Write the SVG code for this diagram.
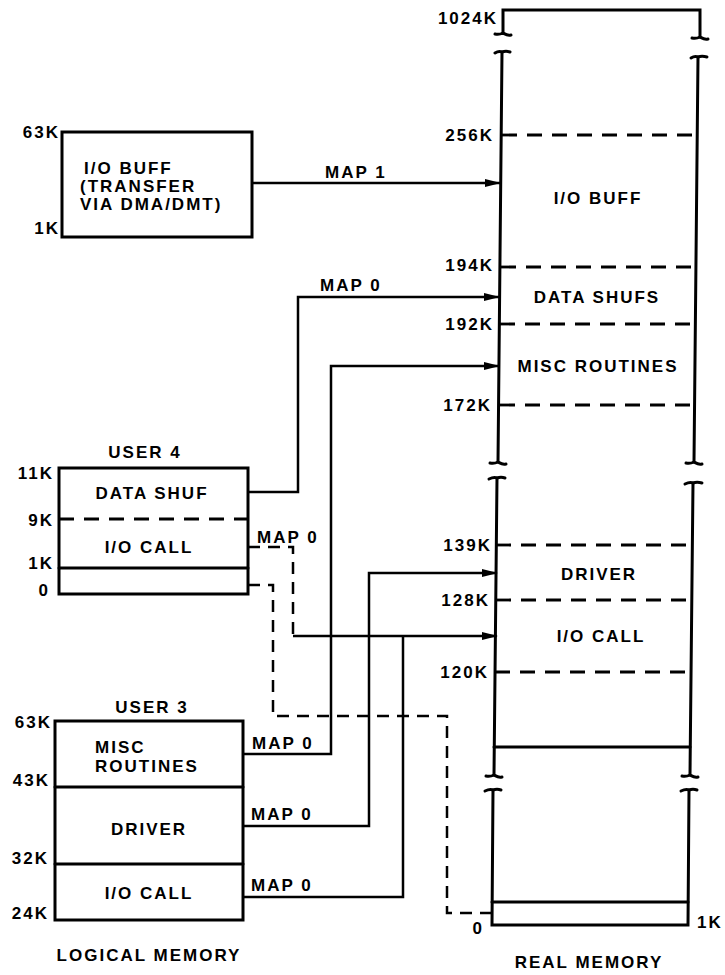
<svg xmlns="http://www.w3.org/2000/svg" width="725" height="975" viewBox="0 0 725 975">
<style>
text{font-family:"Liberation Sans",Arial,sans-serif;font-weight:bold;font-size:17px;letter-spacing:2px;fill:#000}
.m{text-anchor:middle}
.e{text-anchor:end}
.box{fill:none;stroke:#000;stroke-width:3}
.ln{fill:none;stroke:#000;stroke-width:3;stroke-linecap:round}
.ds{fill:none;stroke:#000;stroke-width:2.8;stroke-dasharray:15 10}
.cn{fill:none;stroke:#000;stroke-width:2.5}
.cd{fill:none;stroke:#000;stroke-width:2.5;stroke-dasharray:12 8}
</style>
<defs>
<marker id="ah" markerUnits="userSpaceOnUse" markerWidth="16" markerHeight="10" refX="15" refY="5" orient="auto">
<path d="M0,1 L16,5 L0,9 Z" fill="#000"/>
</marker>
</defs>

<g id="real-memory">
<path class="ln" d="M503,33 L503,10 L700,10 L700,37"/>
<path class="ln" d="M495,34 C499,35 501,34 503,33 C505,34 507,36 511,35"/>
<path class="ln" d="M692,38 C696,39 698,38 700,37 C702,38 704,40 708,39"/>
<path class="ln" d="M495,53 C498,51 500,51 502,52 C505,51 507,51 510,52"/>
<path class="ln" d="M691,58 C694,56 696,56 698,57 C701,56 703,56 707,57"/>
<path class="ln" d="M502,52 L498,462"/>
<path class="ln" d="M698,57 L694,462"/>
<path class="ln" d="M490,463 C494,464 496,463 498,462 C500,463 502,465 506,464"/>
<path class="ln" d="M686,463 C690,464 692,463 694,462 C696,463 698,465 702,464"/>
<path class="ln" d="M489,479 C493,477 495,477 497,478 C500,477 502,477 505,478"/>
<path class="ln" d="M685,484 C689,482 691,482 693,483 C696,482 698,482 702,483"/>
<path class="ln" d="M497,478 L494,775"/>
<path class="ln" d="M693,483 L690,775"/>
<path class="ln" d="M486,776 C490,777 492,776 494,775 C496,776 498,778 502,777"/>
<path class="ln" d="M682,776 C686,777 688,776 690,775 C692,776 694,778 698,777"/>
<path class="ln" d="M485,791 C489,789 491,789 493,790 C496,789 498,789 501,790"/>
<path class="ln" d="M681,791 C685,789 687,789 689,790 C692,789 694,789 697,790"/>
<path class="ln" d="M493,790 L492,925 L688,925 L689,790"/>
<path class="ln" d="M492,902 L688,902"/>
<path class="ln" d="M494,747 L690,747"/>
<path class="ds" d="M502,135 L698,135"/>
<path class="ds" d="M501,267 L697,267"/>
<path class="ds" d="M500,324 L696,324"/>
<path class="ds" d="M500,405 L695,405"/>
<path class="ds" d="M496,545 L692,545"/>
<path class="ds" d="M496,600 L692,600"/>
<path class="ds" d="M495,672 L691,672"/>
<text class="e" x="498" y="24">1024K</text>
<text class="e" x="494" y="141">256K</text>
<text class="e" x="494" y="271">194K</text>
<text class="e" x="494" y="330">192K</text>
<text class="e" x="492" y="411">172K</text>
<text class="e" x="492" y="551">139K</text>
<text class="e" x="490" y="606">128K</text>
<text class="e" x="489" y="678">120K</text>
<text class="e" x="484" y="934">0</text>
<text x="697" y="928">1K</text>
<text class="m" x="598" y="204">I/O BUFF</text>
<text class="m" x="597" y="303">DATA SHUFS</text>
<text class="m" x="598" y="372">MISC ROUTINES</text>
<text class="m" x="599" y="580">DRIVER</text>
<text class="m" x="601" y="642">I/O CALL</text>
<text class="m" x="589" y="968">REAL MEMORY</text>
</g>

<g id="io-buff-box">
<rect class="box" x="62" y="132" width="190" height="105"/>
<text class="e" x="60" y="138">63K</text>
<text class="e" x="60" y="234">1K</text>
<text x="84" y="174">I/O BUFF</text>
<text x="80" y="192">(TRANSFER</text>
<text x="80" y="210">VIA DMA/DMT)</text>
</g>

<g id="user4">
<rect class="box" x="59" y="468" width="189" height="126"/>
<path class="ds" d="M59,519 L248,519"/>
<path class="ln" d="M59,568 L248,568"/>
<text class="m" x="145" y="458">USER 4</text>
<text class="m" x="152" y="499">DATA SHUF</text>
<text class="m" x="149" y="553">I/O CALL</text>
<text class="e" x="54" y="479">11K</text>
<text class="e" x="54" y="526">9K</text>
<text class="e" x="54" y="569">1K</text>
<text class="e" x="50" y="596">0</text>
</g>

<g id="user3">
<rect class="box" x="55" y="721" width="188" height="199"/>
<path class="ln" d="M55,787 L243,787"/>
<path class="ln" d="M55,864 L243,864"/>
<text class="m" x="152" y="713">USER 3</text>
<text x="95" y="753">MISC</text>
<text x="95" y="772">ROUTINES</text>
<text class="m" x="149" y="835">DRIVER</text>
<text class="m" x="149" y="899">I/O CALL</text>
<text class="e" x="52" y="728">63K</text>
<text class="e" x="50" y="786">43K</text>
<text class="e" x="49" y="864">32K</text>
<text class="e" x="49" y="919">24K</text>
<text class="m" x="149" y="961">LOGICAL MEMORY</text>
</g>

<g id="connectors">
<path class="cn" d="M252,183 L500,183" marker-end="url(#ah)"/>
<path class="cn" d="M248,492 L298,492 L298,297 L499,297" marker-end="url(#ah)"/>
<path class="cn" d="M243,754 L331,754 L331,366 L499,366" marker-end="url(#ah)"/>
<path class="cn" d="M243,826 L369,826 L369,573 L497,573" marker-end="url(#ah)"/>
<path class="cn" d="M243,897 L403,897 L403,636"/>
<path class="cd" d="M248,547 L293,547 L293,636"/>
<path class="cn" d="M293,636 L497,636" marker-end="url(#ah)"/>
<path class="cd" d="M248,585 L273,585 L273,716 L447,716 L447,913 L492,913"/>
<text x="325" y="178">MAP 1</text>
<text x="320" y="291">MAP 0</text>
<text x="257" y="543">MAP 0</text>
<text x="252" y="749">MAP 0</text>
<text x="251" y="820">MAP 0</text>
<text x="251" y="891">MAP 0</text>
</g>
</svg>
